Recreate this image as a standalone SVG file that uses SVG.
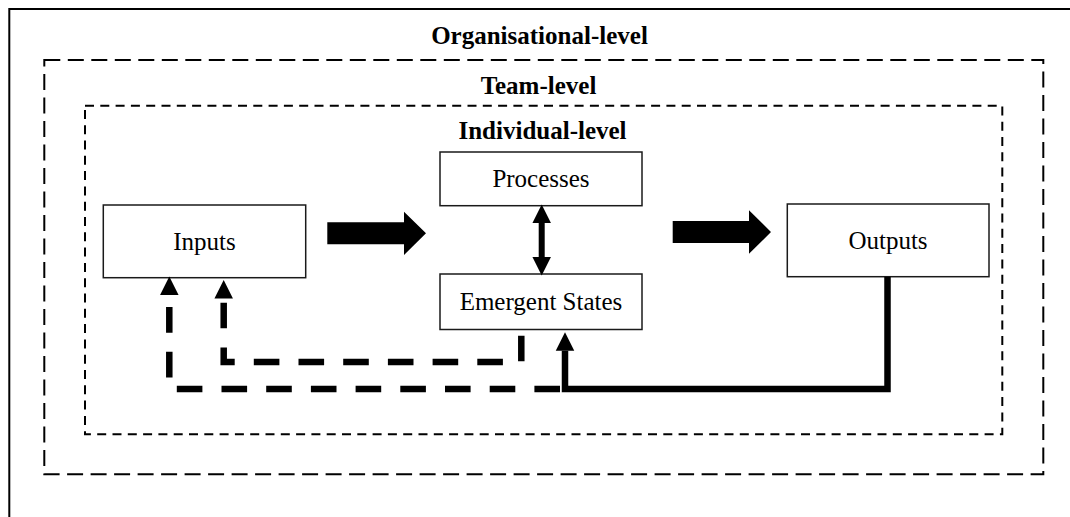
<svg xmlns="http://www.w3.org/2000/svg" width="1070" height="517" viewBox="0 0 1070 517">
  <style>
    .box { fill: #fff; stroke: #1a1a1a; stroke-width: 1.5; }
    .label { font-family: "Liberation Serif", "Times New Roman", serif; font-size: 25px; fill: #000; text-anchor: middle; }
    .title { font-family: "Liberation Serif", "Times New Roman", serif; font-size: 25px; font-weight: bold; fill: #000; text-anchor: middle; }
    .frame { fill: none; stroke: #000; stroke-width: 2; }
    .org { fill: none; stroke: #000; stroke-width: 2; stroke-dasharray: 16 7.5; }
    .team { fill: none; stroke: #000; stroke-width: 2; stroke-dasharray: 9 6.3; }
    .feedback { fill: none; stroke: #000; stroke-width: 6.5; stroke-linejoin: miter; stroke-linecap: butt; }
    .dashed { stroke-dasharray: 25.6 19.1; }
    .bigarrow { fill: #000; }
  </style>
  <defs>
    <marker id="head" markerUnits="userSpaceOnUse" markerWidth="19" markerHeight="19" refX="0" refY="9.25" orient="auto-start-reverse" overflow="visible">
      <path d="M0,0 L18.5,9.25 L0,18.5 Z" fill="#000"/>
    </marker>
  </defs>

  <rect width="1070" height="517" fill="#fff"/>

  <!-- outer frame (open to the right and bottom) -->
  <path class="frame" d="M9.3,517 V9 H1070"/>

  <!-- nested level boundaries -->
  <g id="organisational-level">
    <rect class="org" x="44.3" y="60" width="999" height="414.3"/>
    <text class="title" x="539.5" y="43.5">Organisational-level</text>
  </g>
  <g id="team-level">
    <rect class="team" x="85" y="105.7" width="917.3" height="328.6"/>
    <text class="title" x="538.5" y="94">Team-level</text>
  </g>
  <g id="individual-level">
    <text class="title" x="542.5" y="138.5">Individual-level</text>
  </g>

  <!-- nodes -->
  <g id="inputs">
    <rect class="box" x="103.3" y="205" width="202.4" height="72.7"/>
    <text class="label" x="204.5" y="249.5">Inputs</text>
  </g>
  <g id="processes">
    <rect class="box" x="440" y="152" width="202" height="53.7"/>
    <text class="label" x="541" y="187">Processes</text>
  </g>
  <g id="emergent-states">
    <rect class="box" x="440" y="274" width="202" height="55.5"/>
    <text class="label" x="541" y="310">Emergent States</text>
  </g>
  <g id="outputs">
    <rect class="box" x="787.3" y="204" width="201.7" height="72.7"/>
    <text class="label" x="888" y="248.7">Outputs</text>
  </g>

  <!-- connectors -->
  <g id="connectors">
    <!-- block arrows: inputs -> mediators -> outputs -->
    <polygon class="bigarrow" points="327.3,222.3 404,222.3 404,211.7 426,233.3 404,255 404,244.3 327.3,244.3"/>
    <polygon class="bigarrow" points="672.7,221 749,221 749,210.3 771,232 749,253.7 749,243 672.7,243"/>
    <!-- processes <-> emergent states -->
    <path d="M541.7,223 V257" stroke="#000" stroke-width="6" fill="none" marker-start="url(#head)" marker-end="url(#head)"/>
    <!-- outputs feed back to emergent states -->
    <path class="feedback" d="M887.5,276.7 V389 H565 V350.7" marker-end="url(#head)"/>
    <!-- outputs feed back to inputs -->
    <path class="feedback dashed" d="M560,389 H169.3 V295" marker-end="url(#head)"/>
    <!-- emergent states feed back to inputs -->
    <path class="feedback dashed" d="M521.3,335.7 V362 H223.7 V298.5" marker-end="url(#head)"/>
  </g>
</svg>
